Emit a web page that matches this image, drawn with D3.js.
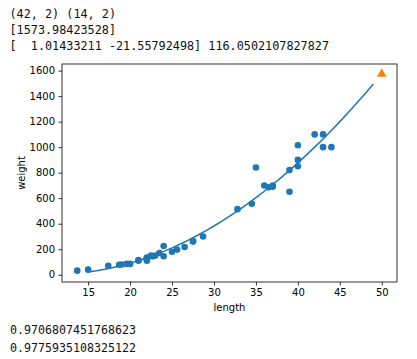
<!DOCTYPE html>
<html>
<head>
<meta charset="utf-8">
<script src="https://cdn.jsdelivr.net/npm/d3@7"></script>
<style>
  body { margin: 0; background: #fff; }
  svg { display: block; }
  .out { font-family: "DejaVu Sans Mono", "Liberation Mono", monospace; font-size: 12px; fill: #111; white-space: pre; }
  .tick text { font-family: "DejaVu Sans", sans-serif; font-size: 10px; fill: #000; }
</style>
</head>
<body>
<svg width="417" height="359"></svg>
<script>
// printed output lines (above and below the plot)
const topLines = ["(42, 2) (14, 2)", "[1573.98423528]", "[  1.01433211 -21.55792498] 116.0502107827827"];
const bottomLines = ["0.9706807451768623", "0.9775935108325122"];

// training points: length / weight
const trainLength = [19.6, 22, 18.7, 17.4, 36, 25, 40, 39, 43, 22, 20, 22, 24, 27.5, 43, 40, 24, 21, 27.5, 40, 32.8,
  26.5, 36.5, 13.7, 22.7, 15, 37, 35, 28.7, 23.5, 39, 21, 23, 22, 44, 22.5, 19, 37, 22, 25.6, 42, 34.5];
const trainWeight = [85, 110, 78, 70, 700, 180, 850, 820, 1000, 120, 85, 130, 225, 260, 1100, 900, 145, 110, 265, 1015, 514,
  218, 685, 32, 145, 40, 700, 840, 300, 170, 650, 115, 150, 135, 1000, 150, 80, 690, 120, 197, 1100, 556];

// predicted point and fitted curve coefficients (a*x^2 + b*x + c)
const predPoint = [50, 1573.98423528];
const coef = [1.01433211, -21.55792498, 116.0502107827827];
const curveX = d3.range(15, 50);

const xTicks = [15, 20, 25, 30, 35, 40, 45, 50];
const yTicks = [0, 200, 400, 600, 800, 1000, 1200, 1400, 1600];

const svg = d3.select("svg");
svg.append("rect").attr("width", 417).attr("height", 359).attr("fill", "#fff");

const box = { left: 62, right: 397, top: 64, bottom: 282 };

const curve = curveX.map(x => [x, coef[0] * x * x + coef[1] * x + coef[2]]);

const xScale = d3.scaleLinear().domain([11.885, 51.815]).range([box.left, box.right]);
const yScale = d3.scaleLinear().domain([-56.8, 1651.7]).range([box.bottom, box.top]);

// text output
svg.selectAll(".topline").data(topLines).enter().append("text")
  .attr("class", "out")
  .attr("x", 9.5)
  .attr("y", (d, i) => 17.5 + i * 16.3)
  .attr("textLength", d => d.length * 7.1)
  .attr("lengthAdjust", "spacingAndGlyphs")
  .text(d => d);

svg.selectAll(".botline").data(bottomLines).enter().append("text")
  .attr("class", "out")
  .attr("x", 10)
  .attr("y", (d, i) => 333.5 + i * 18)
  .attr("textLength", d => d.length * 7.0)
  .attr("lengthAdjust", "spacingAndGlyphs")
  .text(d => d);

// axes
const xAxis = d3.axisBottom(xScale).tickValues(xTicks).tickFormat(d3.format("d")).tickSize(3.5).tickPadding(3.5);
const yAxis = d3.axisLeft(yScale).tickValues(yTicks).tickFormat(d3.format("d")).tickSize(3.5).tickPadding(3.5);

const xg = svg.append("g").attr("transform", `translate(0, ${box.bottom})`).call(xAxis);
const yg = svg.append("g").attr("transform", `translate(${box.left}, 0)`).call(yAxis);
[xg, yg].forEach(g => {
  g.select(".domain").remove();
  g.selectAll(".tick line").attr("stroke", "#000").attr("stroke-width", 0.8);
});

// data marks
svg.append("g").selectAll("circle")
  .data(trainLength.map((l, i) => [l, trainWeight[i]]))
  .enter().append("circle")
  .attr("cx", d => xScale(d[0]))
  .attr("cy", d => yScale(d[1]))
  .attr("r", 3.3)
  .attr("fill", "#1f77b4");

svg.append("path")
  .datum(curve)
  .attr("fill", "none")
  .attr("stroke", "#1f77b4")
  .attr("stroke-width", 1.5)
  .attr("d", d3.line().x(d => xScale(d[0])).y(d => yScale(d[1])));

const tri = d3.symbol().type(d3.symbolTriangle).size(40);
svg.append("path")
  .attr("d", tri())
  .attr("transform", `translate(${xScale(predPoint[0])}, ${yScale(predPoint[1])})`)
  .attr("fill", "#ff7f0e");

// frame
svg.append("rect")
  .attr("x", box.left).attr("y", box.top)
  .attr("width", box.right - box.left).attr("height", box.bottom - box.top)
  .attr("fill", "none").attr("stroke", "#000").attr("stroke-width", 0.8);

// axis labels
svg.append("text")
  .attr("x", (box.left + box.right) / 2).attr("y", 311)
  .attr("text-anchor", "middle")
  .style("font-family", "DejaVu Sans, sans-serif").style("font-size", "10px")
  .text("length");

svg.append("text")
  .attr("transform", `translate(25, ${(box.top + box.bottom) / 2}) rotate(-90)`)
  .attr("text-anchor", "middle")
  .style("font-family", "DejaVu Sans, sans-serif").style("font-size", "10px")
  .text("weight");
</script>
</body>
</html>
